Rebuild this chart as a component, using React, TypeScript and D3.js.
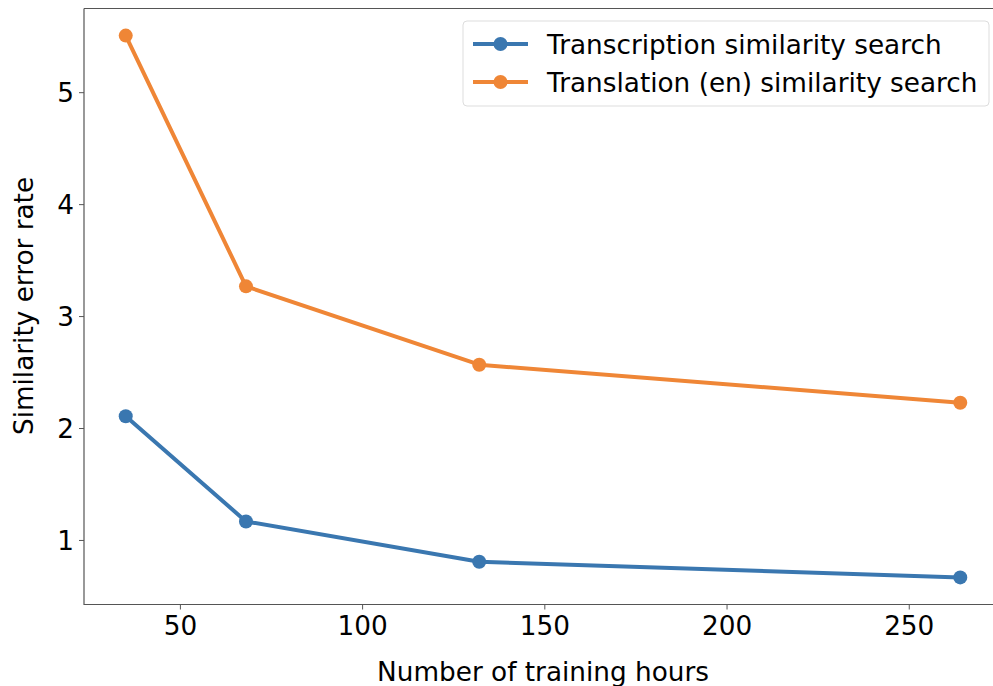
import React from "react";
import * as d3 from "d3";

const hours = [35, 68, 132, 264];
const transcription = [2.11, 1.17, 0.81, 0.67];
const translation = [5.51, 3.27, 2.57, 2.23];
const xTicks = [50, 100, 150, 200, 250];
const yTicks = [1, 2, 3, 4, 5];
const seriesNames = ["Transcription similarity search", "Translation (en) similarity search"];
const colors = ["#3A77B0", "#EF8636"];

const W = 993, H = 686;
const left = 84, top = 8.5, bottom = 604.5, right = 1002;
const font = "DejaVu Sans, sans-serif";
const fs = 26.3;

export default function App() {
  const x = d3.scaleLinear().domain([23.55, 275.45]).range([left, right]);
  const y = d3.scaleLinear().domain([0.428, 5.752]).range([bottom, top]);
  const line = d3.line<number>().x((_, i) => x(hours[i])).y((d) => y(d));
  const series = [transcription, translation];
  return (
    <svg width={W} height={H} style={{ position: "absolute", left: 0, top: 0, background: "#fff" }}>
      <rect width={W} height={H} fill="#fff" />
      {series.map((s, k) => (
        <g key={k}>
          <path d={line(s) || ""} fill="none" stroke={colors[k]} strokeWidth={4} strokeLinejoin="round" strokeLinecap="round" />
          {s.map((v, i) => (
            <circle key={i} cx={x(hours[i])} cy={y(v)} r={7} fill={colors[k]} />
          ))}
        </g>
      ))}
      <path d={`M${left},${top}H${right}M${left},${top}V${bottom}H${right}`} fill="none" stroke="#555" strokeWidth={1.2} />
      {xTicks.map((t) => (
        <g key={t}>
          <line x1={x(t)} x2={x(t)} y1={bottom} y2={bottom + 5} stroke="#555" strokeWidth={1} />
          <text x={x(t)} y={bottom + 30} textAnchor="middle" fontFamily={font} fontSize={fs} fill="#000">{t}</text>
        </g>
      ))}
      {yTicks.map((t) => (
        <g key={t}>
          <line x1={left - 5} x2={left} y1={y(t)} y2={y(t)} stroke="#555" strokeWidth={1} />
          <text x={left - 10} y={y(t) + 9.5} textAnchor="end" fontFamily={font} fontSize={fs} fill="#000">{t}</text>
        </g>
      ))}
      <text x={543} y={681} textAnchor="middle" fontFamily={font} fontSize={fs} fill="#000">Number of training hours</text>
      <text transform={`translate(33,${306}) rotate(-90)`} textAnchor="middle" fontFamily={font} fontSize={fs} fill="#000">Similarity error rate</text>
      <rect x={463} y={21} width={526} height={85} rx={4} fill="#fff" fillOpacity={0.8} stroke="#ddd" strokeWidth={1} />
      {seriesNames.map((n, k) => {
        const cy = 44 + k * 38;
        return (
          <g key={n}>
            <line x1={473} x2={528} y1={cy} y2={cy} stroke={colors[k]} strokeWidth={4} />
            <circle cx={500.5} cy={cy} r={7} fill={colors[k]} />
            <text x={547} y={cy + 9.5} fontFamily={font} fontSize={fs} fill="#000">{n}</text>
          </g>
        );
      })}
    </svg>
  );
}
